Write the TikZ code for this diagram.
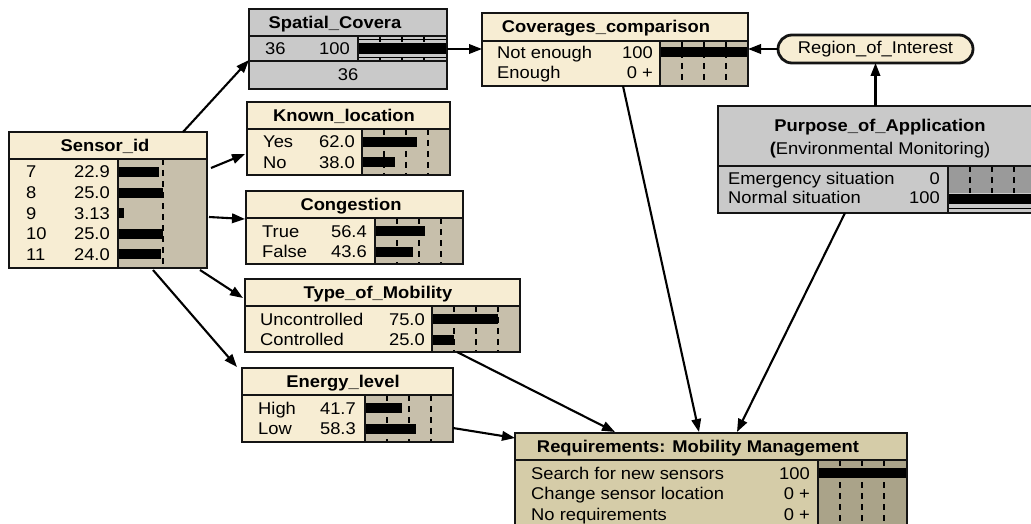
\documentclass[tikz,border=0pt]{standalone}
\usepackage{fontspec}
\setmainfont{Liberation Sans}[FakeStretch=1.08]
\usepackage{tikz}
\usetikzlibrary{calc,arrows.meta,positioning}

\definecolor{cream}{HTML}{F7EDD3}
\definecolor{barbg}{HTML}{C7BFAB}
\definecolor{reqtan}{HTML}{D5CCA8}
\definecolor{reqbar}{HTML}{AAA389}
\definecolor{evgray}{HTML}{C9C9C9}
\definecolor{evbar}{HTML}{9A9A9A}
\definecolor{edge}{HTML}{141414}

\tikzset{
  netbox/.style={inner sep=0pt, outer sep=0pt, anchor=north west},
  frame/.style={draw=edge, line width=2.8pt},
  sep/.style={draw=edge, line width=2.4pt},
  ttl/.style={font=\bfseries, anchor=base, inner sep=0pt},
  lbl/.style={anchor=base west, inner sep=0pt},
  val/.style={anchor=base east, inner sep=0pt},
  tick/.style={draw=black, line width=2.2pt, dash pattern=on 6pt off 5pt},
  link/.style={draw=black, line width=2.1pt, -{Triangle[length=13pt,width=9.5pt]}},
}

\begin{document}
\fontsize{17}{20}\selectfont
\begin{tikzpicture}[x=1pt, y=-1pt]

\clip (0,0) rectangle (1031,524);
\fill[white] (0,0) rectangle (1031,524);

% Sensor_id
\node[netbox, fill=cream, minimum width=198pt, minimum height=136pt] (sensor) at (9,132) {};
\fill[barbg] (118,159) rectangle (207,268);
\draw[tick] (163,159) -- (163,268);
\foreach \lab/\v/\w [count=\i from 0] in {7/22.9/41, 8/25.0/45, 9/3.13/6, 10/25.0/45, 11/24.0/43}
{
    \fill[black] (118,167+20.5*\i) rectangle (118+\w,177+20.5*\i);
    \node[lbl] (sensor-l\i) at (26,178+20.5*\i) {\lab};
    \node[val] (sensor-v\i) at (110,178+20.5*\i) {\v};
}
\draw[sep] (9,159) -- (207,159);
\draw[sep] (118,159) -- (118,268);
\node[ttl] (sensor-t) at (105,151.5) {Sensor\_id};

% Spatial_Covera (evidence node)
\node[netbox, fill=evgray, minimum width=198pt, minimum height=80pt] (spatial) at (249,9) {};
\foreach \x in {380,402,424} \draw[tick] (\x,36) -- (\x,61);
\draw[black, line width=1.4pt] (358,39.5) -- (447,39.5);
\draw[black, line width=1.4pt] (358,57.5) -- (447,57.5);
\fill[black] (358,43) rectangle (447,54);
\draw[sep] (249,36) -- (447,36);
\draw[sep] (249,61) -- (447,61);
\draw[sep] (358,36) -- (358,61);
\node[lbl] (spatial-l) at (265,55) {36};
\node[val] (spatial-v) at (350,55) {100};
\node[anchor=base, inner sep=0pt] (spatial-e) at (348,81) {36};
\node[ttl] (spatial-t) at (335,28.5) {Spatial\_Covera};

% Known_location
\node[netbox, fill=cream, minimum width=203pt, minimum height=73pt] (known) at (247,102) {};
\fill[barbg] (362,129) rectangle (450,175);
\foreach \x in {384,406,428} \draw[tick] (\x,129) -- (\x,175);
\foreach \lab/\v/\w [count=\i from 0] in {Yes/62.0/54.6, No/38.0/33.4}
{
    \fill[black] (362,137+20.5*\i) rectangle (362+\w,147+20.5*\i);
    \node[lbl] (known-l\i) at (263,148+20.5*\i) {\lab};
    \node[val] (known-v\i) at (355,148+20.5*\i) {\v};
}
\draw[sep] (247,129) -- (450,129);
\draw[sep] (362,129) -- (362,175);
\node[ttl] (known-t) at (344,121.5) {Known\_location};

% Congestion
\node[netbox, fill=cream, minimum width=217pt, minimum height=73pt] (congestion) at (246,191) {};
\fill[barbg] (375,218) rectangle (463,264);
\foreach \x in {397,419,441} \draw[tick] (\x,218) -- (\x,264);
\foreach \lab/\v/\w [count=\i from 0] in {True/56.4/49.6, False/43.6/38.4}
{
    \fill[black] (375,226+20.5*\i) rectangle (375+\w,236+20.5*\i);
    \node[lbl] (congestion-l\i) at (262,237+20.5*\i) {\lab};
    \node[val] (congestion-v\i) at (367,237+20.5*\i) {\v};
}
\draw[sep] (246,218) -- (463,218);
\draw[sep] (375,218) -- (375,264);
\node[ttl] (congestion-t) at (351,210.5) {Congestion};

% Type_of_Mobility
\node[netbox, fill=cream, minimum width=275pt, minimum height=73pt] (mobility) at (245,279) {};
\fill[barbg] (432,306) rectangle (520,352);
\foreach \x in {454,476,498} \draw[tick] (\x,306) -- (\x,352);
\foreach \lab/\v/\w [count=\i from 0] in {Uncontrolled/75.0/66, Controlled/25.0/22}
{
    \fill[black] (432,314+20.5*\i) rectangle (432+\w,324+20.5*\i);
    \node[lbl] (mobility-l\i) at (260,325+20.5*\i) {\lab};
    \node[val] (mobility-v\i) at (425,325+20.5*\i) {\v};
}
\draw[sep] (245,306) -- (520,306);
\draw[sep] (432,306) -- (432,352);
\node[ttl] (mobility-t) at (378,298.5) {Type\_of\_Mobility};

% Energy_level
\node[netbox, fill=cream, minimum width=211pt, minimum height=74pt] (energy) at (242,368) {};
\fill[barbg] (365,395) rectangle (453,442);
\foreach \x in {387,409,431} \draw[tick] (\x,395) -- (\x,442);
\foreach \lab/\v/\w [count=\i from 0] in {High/41.7/36.7, Low/58.3/51.3}
{
    \fill[black] (365,403+20.5*\i) rectangle (365+\w,413+20.5*\i);
    \node[lbl] (energy-l\i) at (258,414+20.5*\i) {\lab};
    \node[val] (energy-v\i) at (356,414+20.5*\i) {\v};
}
\draw[sep] (242,395) -- (453,395);
\draw[sep] (365,395) -- (365,442);
\node[ttl] (energy-t) at (343,387.5) {Energy\_level};

% Coverages_comparison
\node[netbox, fill=cream, minimum width=266pt, minimum height=73pt] (coverage) at (482,13) {};
\fill[barbg] (660,41) rectangle (748,86);
\foreach \x in {682,704,726} \draw[tick] (\x,41) -- (\x,86);
\foreach \lab/\v/\w [count=\i from 0] in {Not enough/100/88, Enough/0 +/0}
{
    \fill[black] (660,47.5+20.5*\i) rectangle (660+\w,57.5+20.5*\i);
    \node[lbl] (coverage-l\i) at (497,58.5+20.5*\i) {\lab};
    \node[val] (coverage-v\i) at (653,58.5+20.5*\i) {\v};
}
\draw[sep] (482,41) -- (748,41);
\draw[sep] (660,41) -- (660,86);
\node[ttl] (coverage-t) at (606,32.5) {Coverages\_comparison};

% Region_of_Interest
\node[frame, fill=cream, rounded corners=14pt, minimum width=195pt, minimum height=28pt,
      inner sep=0pt, outer sep=0pt] (region) at (875.5,49) {Region\_of\_Interest};

% Purpose_of_Application (evidence node)
\node[netbox, fill=evgray, minimum width=327pt, minimum height=107pt] (purpose) at (718,106) {};
\fill[evbar] (948,166) rectangle (1045,193);
\foreach \x in {970,992,1014} \draw[tick] (\x,166) -- (\x,193);
\fill[black] (948,194) rectangle (1045,204);
\draw[black, line width=1.4pt] (948,208.5) -- (1045,208.5);
\node[lbl] (purpose-l0) at (728,184) {Emergency situation};
\node[val] (purpose-v0) at (940,184) {0};
\node[lbl] (purpose-l1) at (728,204) {Normal situation};
\node[val] (purpose-v1) at (940,204) {100};
\draw[sep] (718,166) -- (1045,166);
\draw[sep] (948,166) -- (948,213);
\node[ttl] (purpose-t) at (880,132) {Purpose\_of\_Application};
\node[anchor=base, inner sep=0pt] (purpose-s) at (880,154) {{\bfseries(}Environmental Monitoring)};

% Requirements: Mobility Management
\node[netbox, fill=reqtan, minimum width=392pt, minimum height=94pt] (require) at (515,433) {};
\fill[reqbar] (818,460) rectangle (907,527);
\foreach \x in {840,862,884} \draw[tick] (\x,460) -- (\x,527);
\foreach \lab/\v/\w [count=\i from 0] in {Search for new sensors/100/89, Change sensor location/0 +/0, No requirements/0 +/0}
{
    \fill[black] (818,468+20.5*\i) rectangle (818+\w,478+20.5*\i);
    \node[lbl] (require-l\i) at (531,479+20.5*\i) {\lab};
    \node[val] (require-v\i) at (810,479+20.5*\i) {\v};
}
\draw[sep] (515,460) -- (907,460);
\draw[sep] (818,460) -- (818,527);
\node[ttl] (require-t) at (698,452.5) {Requirements: Mobility Management};

% Frames
\foreach \n in {sensor,spatial,known,congestion,mobility,energy,coverage,purpose,require}
    \draw[frame] (\n.north west) rectangle (\n.south east);

% Links
\draw[link] ($(sensor.north west)+(174,0)$) -- ($(spatial.north west)+(0,51)$);
\draw[link] ($(sensor.north east)+(4,36)$) -- ($(known.north west)+(-2,52)$);
\draw[link] ($(sensor.north east)+(2,85)$) -- ($(congestion.north west)+(-1,28)$);
\draw[link] ($(sensor.south east)+(-7,2)$) -- ($(mobility.north west)+(-2,19)$);
\draw[link] ($(sensor.south west)+(144,2)$) -- ($(energy.north west)+(-5,-1)$);
\draw[link] ($(spatial.north east)+(0,40)$) -- ($(coverage.north west)+(0,36)$);
\draw[link] (region.west) -- ($(coverage.north east)+(0,36)$);
\draw[link] (region.south |- purpose.north) -- (region.south);
\draw[link] ($(coverage.south west)+(141,0)$) -- ($(require.north west)+(184,-1)$);
\draw[link] ($(purpose.south west)+(127,0)$) -- ($(require.north west)+(222,-1)$);
\draw[link] ($(mobility.south west)+(212,0)$) -- ($(require.north west)+(100,-1)$);
\draw[link] ($(energy.north east)+(0,60)$) -- ($(require.north west)+(0,5)$);

\end{tikzpicture}
\end{document}
